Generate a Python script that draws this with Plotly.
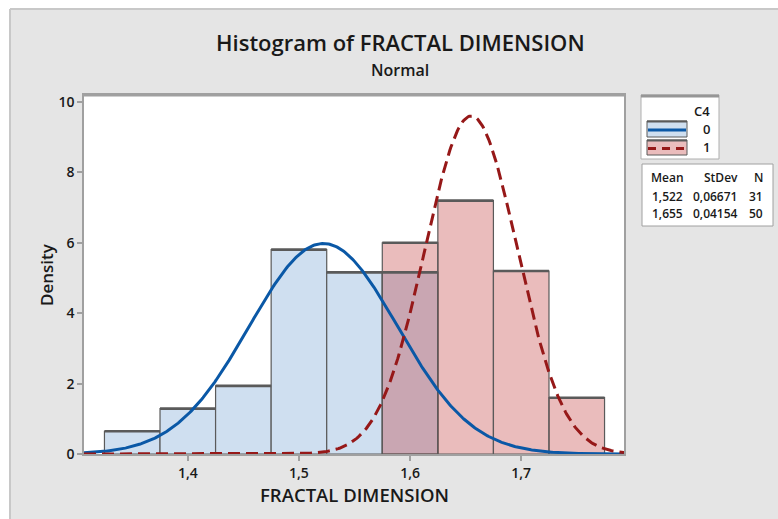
import numpy as np
import plotly.graph_objects as go

# ---------------- data ----------------
bin_width = 0.05
bin_left_0 = [1.325, 1.375, 1.425, 1.475, 1.525, 1.575]
counts_0 = [1, 2, 3, 9, 8, 8]
bin_left_1 = [1.575, 1.625, 1.675, 1.725]
counts_1 = [15, 18, 13, 4]
groups = ["0", "1"]
means = [1.522, 1.655]
stdevs = [0.06671, 0.04154]
ns = [31, 50]
x_range = [1.3066, 1.7925]
y_range = [0, 10.2]
x_ticks = [1.4, 1.5, 1.6, 1.7]
y_ticks = [0, 2, 4, 6, 8, 10]

# ---------------- style ----------------
FONT = "Open Sans"
BLUE_FILL = "rgb(207,223,240)"
RED_FILL = "rgba(189,46,46,0.32)"
BLUE_LINE = "rgb(10,88,166)"
RED_LINE = "rgb(150,24,24)"
EDGE = "rgb(90,90,90)"
BG = "rgb(229,229,229)"
TXT = "rgb(25,25,25)"

W, H = 778, 519
L, T, R, B = 84, 95, 154, 65
PW, PH = W - L - R, H - T - B


def px(x):
    return (x - L) / PW


def py(y):
    return (H - B - y) / PH


def density(counts, n):
    return [c / (n * bin_width) for c in counts]


def tops(lefts, heights):
    xs, ys = [], []
    for l, h in zip(lefts, heights):
        xs += [l, l + bin_width, None]
        ys += [h, h, None]
    return xs, ys


fig = go.Figure()

dens_0 = density(counts_0, ns[0])
dens_1 = density(counts_1, ns[1])

fig.add_trace(go.Bar(
    x=[l + bin_width / 2 for l in bin_left_0], y=dens_0, width=bin_width,
    marker=dict(color=BLUE_FILL, line=dict(color=EDGE, width=1.2)),
    showlegend=False))
tx, ty = tops(bin_left_0, dens_0)
fig.add_trace(go.Scatter(x=tx, y=ty, mode="lines",
                         line=dict(color=EDGE, width=2.6), showlegend=False))

fig.add_trace(go.Bar(
    x=[l + bin_width / 2 for l in bin_left_1], y=dens_1, width=bin_width,
    marker=dict(color=RED_FILL, line=dict(color=EDGE, width=1.2)),
    showlegend=False))
tx, ty = tops(bin_left_1, dens_1)
fig.add_trace(go.Scatter(x=tx, y=ty, mode="lines",
                         line=dict(color=EDGE, width=2.6), showlegend=False))

xs = np.linspace(x_range[0], x_range[1], 500)
for m, s, col, dash in [(means[0], stdevs[0], BLUE_LINE, "solid"),
                        (means[1], stdevs[1], RED_LINE, "12px,6px")]:
    ys = np.exp(-0.5 * ((xs - m) / s) ** 2) / (s * np.sqrt(2 * np.pi))
    fig.add_trace(go.Scatter(x=xs, y=ys, mode="lines",
                             line=dict(color=col, width=3, dash=dash),
                             showlegend=False))

fig.update_layout(barmode="overlay")

shapes = []
# outer white strips and border
shapes.append(dict(type="rect", xref="paper", yref="paper", x0=px(-5), x1=px(W + 5),
                   y0=py(9), y1=py(-5), fillcolor="white", line=dict(width=0), layer="below"))
shapes.append(dict(type="rect", xref="paper", yref="paper", x0=px(-5), x1=px(10),
                   y0=py(H + 5), y1=py(-5), fillcolor="white", line=dict(width=0), layer="below"))
shapes.append(dict(type="line", xref="paper", yref="paper", x0=px(10), x1=px(W + 5),
                   y0=py(9), y1=py(9), line=dict(color="rgb(200,200,200)", width=2)))
shapes.append(dict(type="line", xref="paper", yref="paper", x0=px(10), x1=px(10),
                   y0=py(9), y1=py(H + 5), line=dict(color="rgb(200,200,200)", width=2)))
# top frame thicker
shapes.append(dict(type="line", xref="paper", yref="paper", x0=0, x1=1,
                   y0=1, y1=1, line=dict(color="rgb(160,160,160)", width=3)))

# legend box 1
shapes.append(dict(type="rect", xref="paper", yref="paper", x0=px(641), x1=px(719),
                   y0=py(159), y1=py(95), fillcolor="white",
                   line=dict(color="rgb(175,175,175)", width=1)))
shapes.append(dict(type="line", xref="paper", yref="paper", x0=px(641), x1=px(719),
                   y0=py(96), y1=py(96), line=dict(color="rgb(150,150,150)", width=3)))
for (y0, y1, fill, col, dash) in [(121, 137, BLUE_FILL, BLUE_LINE, "solid"),
                                  (140, 155, "rgb(234,188,188)", RED_LINE, "8px,6px")]:
    shapes.append(dict(type="rect", xref="paper", yref="paper", x0=px(647), x1=px(687),
                       y0=py(y1), y1=py(y0), fillcolor=fill, line=dict(color=EDGE, width=1)))
    shapes.append(dict(type="line", xref="paper", yref="paper", x0=px(647), x1=px(687),
                       y0=py(y0 + 0.5), y1=py(y0 + 0.5), line=dict(color=EDGE, width=2)))
    ym = (y0 + y1) / 2 + 1
    shapes.append(dict(type="line", xref="paper", yref="paper", x0=px(648), x1=px(686),
                       y0=py(ym), y1=py(ym), line=dict(color=col, width=3, dash=dash)))
# legend box 2
shapes.append(dict(type="rect", xref="paper", yref="paper", x0=px(642), x1=px(773),
                   y0=py(226), y1=py(164), fillcolor="white",
                   line=dict(color="rgb(160,160,160)", width=1)))

annotations = []


def txt(text, x, y, size=12, weight=600, xanchor="center", angle=0, color=TXT):
    annotations.append(dict(text=text,
                            xref="paper", yref="paper", x=px(x), y=py(y),
                            xanchor=xanchor, yanchor="middle", showarrow=False,
                            textangle=angle,
                            font=dict(family=FONT, size=size, color=color, weight=weight)))


txt("Histogram of FRACTAL DIMENSION", 400, 42, size=22, weight=600)
txt("Normal", 400, 70, size=16, weight=600)
txt("Density", 46, 275, size=17, weight=600, angle=-90)
txt("FRACTAL DIMENSION", 354, 494, size=18.5, weight=600)

txt("C4", 702, 111, size=13, weight=600)
txt(groups[0], 706, 129, size=13, weight=600)
txt(groups[1], 706, 147, size=13, weight=600)

txt("Mean", 667, 177, size=12, weight=600)
txt("StDev", 721, 177, size=12, weight=600)
txt("N", 758, 177, size=12, weight=600)
for i, yy in enumerate([196, 213]):
    txt(("%.3f" % means[i]).replace(".", ","), 667, yy, size=12, weight=600)
    txt(("%.5f" % stdevs[i]).replace(".", ","), 715, yy, size=12, weight=600)
    txt(str(ns[i]), 756, yy, size=12, weight=600)

tickfont = dict(family=FONT, size=14, color=TXT, weight=600)
fig.update_layout(
    width=W, height=H,
    margin=dict(l=L, r=R, t=T, b=B, pad=0),
    paper_bgcolor=BG, plot_bgcolor="white",
    separators=",.",
    shapes=shapes, annotations=annotations,
    font=dict(family=FONT, size=13, color=TXT),
    xaxis=dict(range=x_range, tickvals=x_ticks, tickformat=".1f",
               showgrid=False, zeroline=False,
               showline=True, linecolor="rgb(160,160,160)", linewidth=2, mirror=True,
               ticks="outside", ticklen=5, tickwidth=1.5, tickcolor="rgb(160,160,160)",
               tickfont=tickfont),
    yaxis=dict(range=y_range, tickvals=y_ticks,
               showgrid=False, zeroline=False,
               showline=True, linecolor="rgb(160,160,160)", linewidth=1.5, mirror=True,
               ticks="outside", ticklen=5, tickwidth=1.5, tickcolor="rgb(160,160,160)",
               tickfont=tickfont),
)

fig.write_html("out.html")
